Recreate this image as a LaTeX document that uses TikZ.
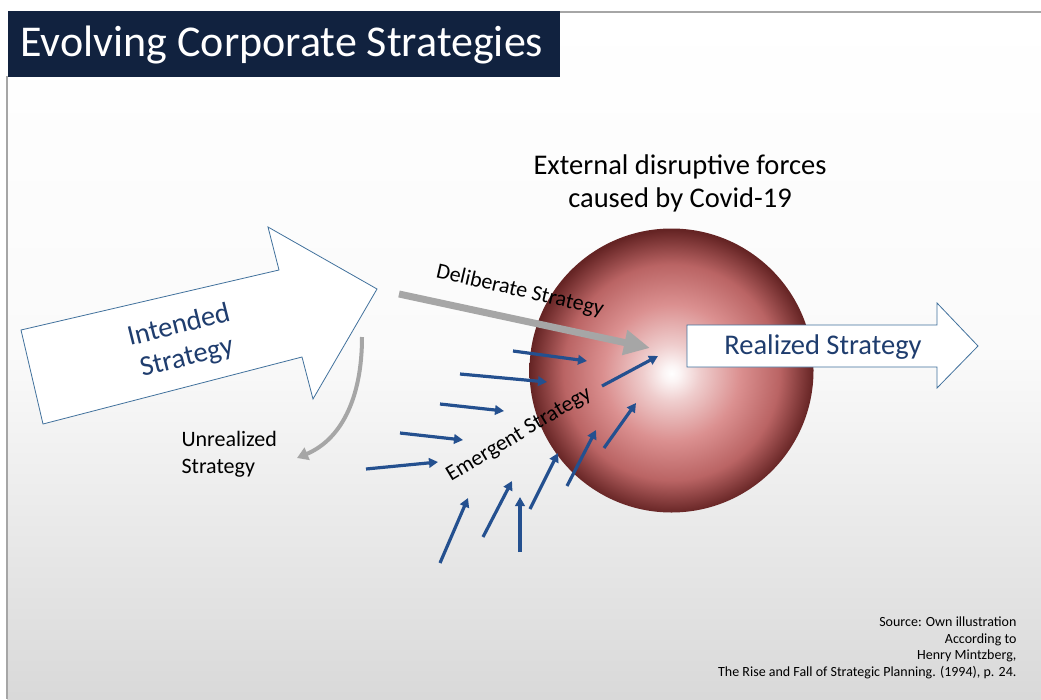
\documentclass[tikz,border=0pt]{standalone}
\usepackage{fontspec}
\setmainfont{Carlito}
\usetikzlibrary{arrows.meta}
\definecolor{titlenavy}{HTML}{11223F}
\definecolor{textblue}{HTML}{1F3D6E}
\definecolor{outlineblue}{HTML}{41719C}
\definecolor{forceblue}{HTML}{24508F}
\definecolor{arrowgray}{HTML}{A6A6A6}
\definecolor{ballpink}{HTML}{DB9090}
\definecolor{ballmid}{HTML}{BA6464}
\definecolor{balldark}{HTML}{652424}
\pgfdeclareradialshading{covidball}{\pgfpoint{0bp}{-0.5bp}}{color(0bp)=(white); color(1.5bp)=(white!90!ballpink); color(5bp)=(white!55!ballpink); color(12bp)=(ballpink); color(19bp)=(ballmid); color(25bp)=(balldark); color(50bp)=(balldark)}
\tikzset{
  bigarrow/.style={draw=outlineblue, fill=white, line width=0.8pt},
  arrowlabel/.style={text=textblue, font=\fontsize{28.5}{33}\selectfont, align=center},
  darklabel/.style={text=black, font=\fontsize{22}{27}\selectfont},
  force/.style={draw=forceblue, line width=3.2pt, -{Triangle[length=9pt, width=9.5pt]}},
  grayflow/.style={draw=arrowgray, line cap=butt}
}
\begin{document}
\begin{tikzpicture}[x=1pt, y=-1pt]
  \useasboundingbox (0,0) rectangle (1041,699);
  \shade[top color=white, bottom color=gray!30, middle color=white!96!gray] (7,12) rectangle (1041,699);
  \draw[gray!70, line width=1.2pt] (560,12) -- (1041,12) (7,76) -- (7,699);
  \fill[titlenavy] (8,11) rectangle (560,77);
  \node[text=white, font=\fontsize{44}{50}\selectfont, anchor=west] (title) at (17,45) {Evolving Corporate Strategies};

  \shade[shading=covidball] (671.5,370.5) circle[radius=142];
  \node[font=\fontsize{28.5}{33}\selectfont, align=center] (forces) at (680,183) {External disruptive forces\\caused by Covid-19};

  \draw[bigarrow] (21,330) -- (279,270) -- (268,227) -- (377,289) -- (313,399) -- (302,357) -- (43,424) -- cycle;
  \node[arrowlabel, rotate=14] (intended) at (183,342) {Intended\\Strategy};

  \draw[bigarrow] (687,325) -- (937,325) -- (937,303) -- (978,346) -- (937,388) -- (937,367) -- (687,367) -- cycle;
  \node[arrowlabel] (realized) at (823,347) {Realized Strategy};

  \coordinate (delstart) at (399,294);
  \coordinate (delend) at (650,348);
  \draw[grayflow, line width=7pt, -{Triangle[length=26pt, width=24pt]}] (delstart) -- (delend);
  \node[darklabel, rotate=-13] (deliberate) at (520,291) {Deliberate Strategy};

  \coordinate (unstart) at (362,337);
  \coordinate (unend) at (297,458);
  \draw[grayflow, line width=4pt, -{Triangle[length=11pt, width=13pt]}] (unstart) .. controls (362,400) and (340,440) .. (unend);
  \node[darklabel, align=left, anchor=north west] (unrealized) at (178,428) {Unrealized\\Strategy};

  \foreach \sx/\sy/\ex/\ey in {513/351/587/361, 460/374/547/382, 440/404/504/411, 400/433/463/440,
      366/469/438/462, 440/563/468/498, 483/537/512/481, 520/552/520/497, 530/509/558/453,
      567/486/596/430, 604/448/636/403, 602/386/658/356}
    \draw[force] (\sx,\sy) -- (\ex,\ey);
  \node[darklabel, rotate=31] (emergent) at (519,435) {Emergent Strategy};

  \node[font=\fontsize{14}{16.8}\selectfont, align=right, anchor=north east] (source) at (1020,613) {Source: Own illustration\\According to \\Henry Mintzberg,\\The Rise and Fall of Strategic Planning. (1994), p. 24.};
\end{tikzpicture}
\end{document}
